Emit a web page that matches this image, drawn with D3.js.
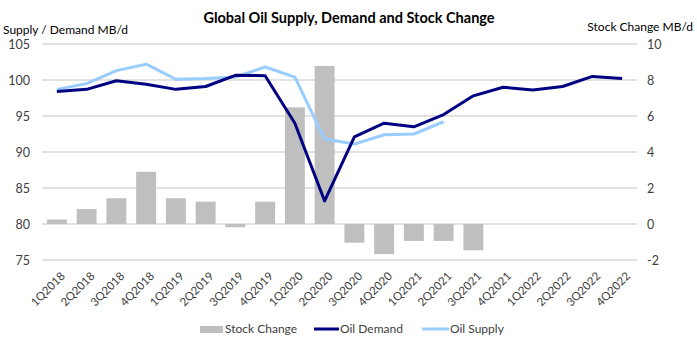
<!DOCTYPE html>
<html>
<head>
<meta charset="utf-8">
<script src="https://cdn.jsdelivr.net/npm/d3@7"></script>
<style>
  body { margin: 0; background: #fff; }
  svg { font-family: Lato, "Open Sans", sans-serif; }
</style>
</head>
<body>
<div id="chart"></div>
<script>
// ---- data ----
const quarters = ["1Q2018","2Q2018","3Q2018","4Q2018","1Q2019","2Q2019","3Q2019","4Q2019",
  "1Q2020","2Q2020","3Q2020","4Q2020","1Q2021","2Q2021","3Q2021","4Q2021",
  "1Q2022","2Q2022","3Q2022","4Q2022"];
const stockChange = [0.25, 0.83, 1.43, 2.9, 1.43, 1.24, -0.18, 1.24,
  6.48, 8.78, -1.04, -1.67, -0.94, -0.94, -1.46, null, null, null, null, null];
const oilDemand = [98.4, 98.7, 99.9, 99.4, 98.7, 99.1, 100.65, 100.6,
  94.0, 83.2, 92.1, 94.0, 93.5, 95.2, 97.8, 99.0, 98.6, 99.1, 100.5, 100.2];
const oilSupply = [98.7, 99.5, 101.3, 102.2, 100.1, 100.2, 100.4, 101.8,
  100.4, 91.8, 91.1, 92.4, 92.5, 94.2, null, null, null, null, null, null];
const leftTicks = [75, 80, 85, 90, 95, 100, 105];
const rightTicks = [-2, 0, 2, 4, 6, 8, 10];

const W = 697, H = 348;
const margin = { left: 42, right: 60, top: 44, bottom: 88 };

const svg = d3.select("#chart").append("svg")
  .attr("width", W).attr("height", H);

const x = d3.scaleBand().domain(quarters)
  .range([margin.left, W - margin.right]).paddingInner(0.33).paddingOuter(0.165);
const yL = d3.scaleLinear().domain([75, 105]).range([H - margin.bottom, margin.top]);
const yR = d3.scaleLinear().domain([-2, 10]).range([H - margin.bottom, margin.top]);

// gridlines
svg.append("g").selectAll("line").data(leftTicks).join("line")
  .attr("x1", margin.left).attr("x2", W - margin.right)
  .attr("y1", d => yL(d)).attr("y2", d => yL(d))
  .attr("stroke", "#d9d9d9").attr("stroke-width", 1.5);

// bars
svg.append("g").selectAll("rect")
  .data(quarters.map((q, i) => ({ q, v: stockChange[i] })).filter(d => d.v != null))
  .join("rect")
  .attr("x", d => x(d.q)).attr("width", x.bandwidth())
  .attr("y", d => Math.min(yR(d.v), yR(0)))
  .attr("height", d => Math.abs(yR(d.v) - yR(0)))
  .attr("fill", "#bfbfbf");

const cx = q => x(q) + x.bandwidth() / 2;

function drawLine(vals, color) {
  const line = d3.line()
    .defined(d => d.v != null)
    .x(d => cx(d.q)).y(d => yL(d.v));
  svg.append("path")
    .datum(quarters.map((q, i) => ({ q, v: vals[i] })))
    .attr("d", line).attr("fill", "none")
    .attr("stroke", color).attr("stroke-width", 3)
    .attr("stroke-linejoin", "round");
}
drawLine(oilSupply, "#99ccff");
drawLine(oilDemand, "#000080");

// left axis labels
svg.append("g").selectAll("text").data(leftTicks).join("text")
  .attr("x", 30).attr("y", d => yL(d) + 1).attr("dy", "0.35em")
  .attr("text-anchor", "end").attr("font-size", 12.5).attr("fill", "#404040")
  .text(d => d);

// right axis labels
svg.append("g").selectAll("text").data(rightTicks).join("text")
  .attr("x", W - margin.right + 10).attr("y", d => yR(d) + 1).attr("dy", "0.35em")
  .attr("text-anchor", "start").attr("font-size", 12.5).attr("fill", "#404040")
  .text(d => d);

// x labels
svg.append("g").selectAll("text").data(quarters).join("text")
  .attr("transform", d => `translate(${cx(d) + 6},${H - margin.bottom + 14}) rotate(-45)`)
  .attr("text-anchor", "end").attr("dy", "0.35em")
  .attr("font-size", 11.5).attr("fill", "#404040")
  .text(d => d);

// titles
svg.append("text").attr("x", 349).attr("y", 23).attr("text-anchor", "middle")
  .attr("font-size", 14.5).attr("font-weight", "bold").attr("fill", "#000")
  .text("Global Oil Supply, Demand and Stock Change");
svg.append("text").attr("x", 3).attr("y", 34)
  .attr("font-size", 12).attr("fill", "#000").text("Supply / Demand MB/d");
svg.append("text").attr("x", 693).attr("y", 31).attr("text-anchor", "end")
  .attr("font-size", 12).attr("fill", "#000").text("Stock Change MB/d");

// legend
const lg = svg.append("g").attr("font-size", 12).attr("fill", "#404040");
lg.append("rect").attr("x", 200).attr("y", 326).attr("width", 23).attr("height", 7).attr("fill", "#bfbfbf");
lg.append("text").attr("x", 225).attr("y", 329).attr("dy", "0.35em").text("Stock Change");
lg.append("line").attr("x1", 314).attr("x2", 339).attr("y1", 329).attr("y2", 329)
  .attr("stroke", "#000080").attr("stroke-width", 3);
lg.append("text").attr("x", 340).attr("y", 329).attr("dy", "0.35em").text("Oil Demand");
lg.append("line").attr("x1", 422).attr("x2", 449).attr("y1", 329).attr("y2", 329)
  .attr("stroke", "#99ccff").attr("stroke-width", 3);
lg.append("text").attr("x", 450).attr("y", 329).attr("dy", "0.35em").text("Oil Supply");
</script>
</body>
</html>
